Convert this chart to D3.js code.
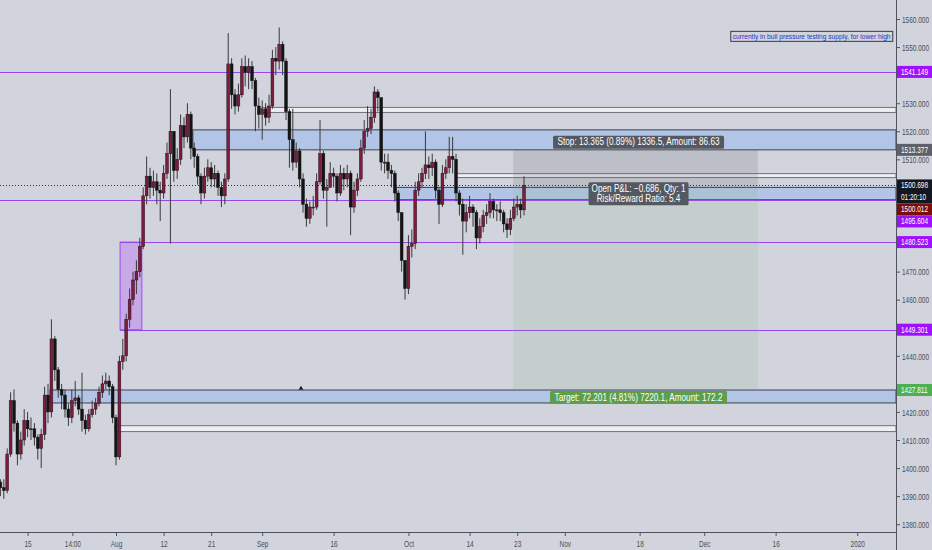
<!DOCTYPE html>
<html><head><meta charset="utf-8">
<script src="https://cdn.jsdelivr.net/npm/d3@7"></script>
<style>html,body{margin:0;padding:0;background:#d1d4dc;overflow:hidden}text{font-family:"Liberation Sans",Arial,sans-serif}</style>
</head><body><svg id="c" width="932" height="550"></svg>
<script>
// ---------- DATA ----------
const firstBarDay = -17;      // trading-day index (0 = 2019-08-01) of first bar
const barsPerDay = 2;
const firstOpen = 1395;
const closes = [1393,1392,1405,1424,1416,1405,1410,1417,1414,1414,
1411,1407,1412,1426,1420,1446,1435,1428,1426,1421,
1418,1424,1425,1421,1417,1414,1419,1421,1423,1427,
1430,1431,1429,1418,1404,1438,1440,1453,1460,1467,
1470,1479,1497,1504,1500,1502,1499,1498,1505,1512,
1520,1506,1510,1522,1518,1526,1514,1511,1504,1498,
1504,1507,1503,1505,1500,1497,1503,1544,1533,1529,
1533,1543,1541,1543,1538,1529,1526,1528,1525,1529,
1546,1545,1551,1545,1527,1517,1509,1513,1503,1494,
1489,1493,1493,1502,1512,1499,1500,1505,1504,1498,
1505,1503,1505,1493,1499,1503,1514,1520,1521,1525,
1534,1532,1509,1509,1506,1505,1498,1491,1474,1464,
1479,1480,1499,1502,1505,1508,1507,1509,1499,1494,
1505,1507,1511,1510,1498,1494,1488,1491,1493,1491,
1482,1486,1490,1491,1495,1492,1492,1491,1487,1485,
1489,1493,1494,1492,1500.7];
const highs = [1396,1396,1407,1427,1428,1417,1413,1421,1420,1418,
1416,1412,1414,1429,1430,1453,1447,1436,1430,1428,
1423,1428,1431,1426,1434,1419,1421,1424,1425,1429,
1433,1434,1433,1430,1419,1440,1446,1455,1464,1470,
1474,1482,1500,1511,1507,1506,1505,1502,1508,1516,
1535,1516,1514,1526,1525,1530,1527,1516,1512,1505,
1507,1510,1509,1508,1506,1502,1505,1555,1546,1535,
1537,1546,1547,1546,1545,1539,1532,1531,1530,1533,
1549,1550,1557,1552,1546,1528,1528,1516,1514,1505,
1496,1495,1497,1505,1524,1513,1503,1509,1507,1505,
1508,1507,1508,1506,1502,1505,1517,1524,1529,1528,
1536,1535,1532,1512,1512,1508,1506,1499,1488,1470,
1483,1485,1502,1505,1507,1520,1511,1512,1510,1500,
1508,1510,1518,1518,1512,1499,1496,1494,1497,1494,
1492,1489,1492,1494,1498,1496,1494,1495,1492,1489,
1492,1496,1497,1496,1504];
const lows = [1390,1389,1391,1404,1413,1401,1403,1408,1411,1410,
1408,1403,1400,1410,1416,1418,1431,1425,1421,1418,
1415,1416,1422,1419,1413,1412,1413,1418,1419,1422,
1425,1428,1426,1416,1401,1403,1435,1438,1450,1458,
1462,1468,1478,1494,1496,1497,1494,1488,1496,1503,
1480,1502,1503,1508,1514,1516,1510,1507,1501,1494,
1496,1502,1500,1500,1497,1493,1494,1502,1528,1526,
1527,1532,1536,1535,1535,1520,1521,1517,1522,1523,
1528,1540,1542,1540,1524,1507,1506,1507,1500,1491,
1486,1487,1490,1492,1501,1496,1486,1500,1500,1495,
1497,1499,1500,1483,1491,1497,1502,1512,1518,1519,
1523,1527,1506,1505,1503,1500,1495,1488,1470,1460,
1462,1475,1478,1497,1500,1503,1503,1504,1496,1487,
1493,1503,1505,1505,1495,1490,1476,1484,1489,1486,
1478,1480,1484,1487,1489,1489,1488,1488,1484,1482,
1483,1488,1490,1489,1490];

const priceTicks = [1380,1390,1400,1410,1420,1430,1440,1450,1460,1470,1480,1490,1500,1510,1520,1530,1540,1550,1560];
const timeTickLabels = ["15","14:00","Aug","12","21","Sep","16","Oct","14","23","Nov","18","Dec","16","2020"];
const timeTickDates = ["2019-07-15 00:00","2019-07-23 14:00","2019-08-01 00:00","2019-08-12 00:00","2019-08-21 00:00","2019-09-01 00:00","2019-09-16 00:00","2019-10-01 00:00","2019-10-14 00:00","2019-10-23 00:00","2019-11-01 00:00","2019-11-18 00:00","2019-12-01 00:00","2019-12-16 00:00","2020-01-01 00:00"];

const levelPrices = [1541.149, 1495.604, 1480.523, 1449.301];
const levelFrom   = [-17.1, -17.1, 0.6, 0.6];   // trading-day index where each level starts
const zoneKinds  = ["blue","white","white","blue","blue","white"];
const zoneFrom   = [11.3, 21.5, 49.9, 41.2, -9.7, -0.15];
const zoneTop    = [1520.5, 1528.5, 1504.9, 1500.0, 1427.811, 1415.1];
const zoneBottom = [1513.377, 1526.7, 1503.5, 1495.604, 1423.2, 1413.0];
const boxFrom = 0.6, boxTo = 3.8, boxTop = 1480.523, boxBottom = 1449.301;

const posFrom = 58.4, posTo = 94.4;
const posEntry = 1500.012, posStop = 1513.377, posTarget = 1427.811;
const stopText = "Stop: 13.365 (0.89%) 1336.5, Amount: 86.63";
const targetText = "Target: 72.201 (4.81%) 7220.1, Amount: 172.2";
const pnlText = ["Open P&L: \u22120.686, Qty: 1", "Risk/Reward Ratio: 5.4"];

const lastPrice = 1500.698, countdown = "01:20:10";
const axisLabelPrices = [1541.149, 1513.377, 1500.698, 1500.012, 1495.604, 1480.523, 1449.301, 1427.811];
const axisLabelKinds  = ["purple","grey","last","red","purple","purple","purple","green"];

const noteText = "currently in bull pressure testing supply, for lower high";
const noteDay = 90.4, notePrice = 1555.6;
const markerDay = 27.2, markerPrice = 1428.3;

// ---------- SETUP ----------
const W = 932, H = 550, plotR = 896, plotB = 532;
const svg = d3.select("#c");
svg.append("rect").attr("width", W).attr("height", H).attr("fill", "#d1d4dc");

const x = d3.scaleLinear().domain([-17.06, 114.7]).range([0, plotR]);
const y = d3.scaleLinear().domain([1380, 1560]).range([524.2, 19]);

const baseDay = Date.UTC(2019, 7, 1);
const isWd = d => { const g = d.getUTCDay(); return g >= 1 && g <= 5; };
const parse = d3.utcParse("%Y-%m-%d %H:%M");
function tradingIndex(d) {
  const day = d3.utcDay.floor(d), base = new Date(baseDay);
  const frac = (d - day) / 864e5;
  let n = day >= base ? d3.utcDay.range(base, day).filter(isWd).length
                      : -d3.utcDay.range(day, base).filter(isWd).length;
  return n + (isWd(day) ? frac : -0.5);
}
// horizontally condense a text via transform (keeps bbox honest)
function squeeze(sel, f) {
  sel.each(function () {
    const t = d3.select(this);
    const x0 = +t.attr("x") || 0, y0 = +t.attr("y") || 0;
    t.attr("x", 0).attr("y", 0).attr("transform", `translate(${x0},${y0}) scale(${f},1)`);
  });
}

const pg = svg.append("g");
svg.append("defs").append("clipPath").attr("id", "pc").append("rect")
  .attr("width", plotR).attr("height", plotB);
pg.attr("clip-path", "url(#pc)");

// ---------- ZONES ----------
zoneKinds.forEach((k, i) => {
  const x0 = x(zoneFrom[i]), y0 = y(zoneTop[i]), y1 = y(zoneBottom[i]);
  pg.append("rect").attr("x", x0).attr("y", y0).attr("width", plotR - x0).attr("height", y1 - y0)
    .attr("fill", k === "blue" ? "#b3c5e6" : "#eceef2")
    .attr("stroke", k === "blue" ? "#3e424d" : "#6e717b").attr("stroke-width", 1);
});
pg.append("rect").attr("x", x(boxFrom)).attr("y", y(boxTop))
  .attr("width", x(boxTo) - x(boxFrom)).attr("height", y(boxBottom) - y(boxTop))
  .attr("fill", "#c6a9e6").attr("stroke", "#9b4ff0");
levelPrices.forEach((p, i) => {
  pg.append("line").attr("x1", x(levelFrom[i])).attr("x2", plotR)
    .attr("y1", Math.round(y(p)) + 0.5).attr("y2", Math.round(y(p)) + 0.5)
    .attr("stroke", "#9b45f0").attr("stroke-width", 1);
});

// ---------- POSITION ----------
const px0 = x(posFrom), px1 = x(posTo);
pg.append("rect").attr("x", px0).attr("y", y(posStop)).attr("width", px1 - px0)
  .attr("height", y(posEntry) - y(posStop)).attr("fill", "rgba(110,112,122,0.2)");
pg.append("rect").attr("x", px0).attr("y", y(posEntry)).attr("width", px1 - px0)
  .attr("height", y(posTarget) - y(posEntry)).attr("fill", "rgba(90,170,90,0.11)");

pg.append("line").attr("x1", 0).attr("x2", plotR)
  .attr("y1", Math.round(y(lastPrice)) + 0.5).attr("y2", Math.round(y(lastPrice)) + 0.5)
  .attr("stroke", "#2a2e39").attr("stroke-dasharray", "1,2");

// ---------- CANDLES ----------
const bars = closes.map((c, k) => {
  const o = k === 0 ? firstOpen : closes[k - 1];
  return { t: firstBarDay + k / barsPerDay, o, c, h: Math.max(highs[k], o, c), l: Math.min(lows[k], o, c) };
});
const cg = pg.append("g");
cg.selectAll("line.w").data(bars).join("line").attr("class", "w")
  .attr("x1", d => x(d.t)).attr("x2", d => x(d.t))
  .attr("y1", d => y(d.h)).attr("y2", d => y(d.l))
  .attr("stroke", "#3a3a3e").attr("stroke-width", 1);
cg.selectAll("rect.b").data(bars).join("rect").attr("class", "b")
  .attr("x", d => x(d.t) - 1.4).attr("width", 2.8)
  .attr("y", d => y(Math.max(d.o, d.c)))
  .attr("height", d => Math.max(1, Math.abs(y(d.o) - y(d.c))))
  .attr("fill", d => d.c >= d.o ? "#7c1e40" : "#141414")
  .attr("stroke", d => d.c >= d.o ? "#2b0c17" : "#141414").attr("stroke-width", 0.5);

pg.append("path").attr("transform", `translate(${x(markerDay)},${y(markerPrice)})`)
  .attr("d", "M0,-3 L2.5,1.5 L0,0.5 L-2.5,1.5 Z").attr("fill", "#111");

// ---------- POSITION LABELS ----------
const pcx = (px0 + px1) / 2 + 3;
function boxLabel(lines, cy, w, bg, mode) {
  const lh = 10, h = lines.length * lh + 3;
  const top = mode === "above" ? cy - h - 1 : mode === "below" ? cy + 1 : cy - 5;
  svg.append("rect").attr("x", pcx - w / 2).attr("y", top).attr("width", w).attr("height", h)
    .attr("rx", 1.5).attr("fill", bg);
  lines.forEach((s, i) => {
    const t = svg.append("text").attr("x", pcx).attr("y", top + 9.5 + i * lh)
      .attr("text-anchor", "middle").attr("fill", "#fff").attr("font-size", 10).text(s);
    squeeze(t, 0.82);
  });
}
boxLabel([stopText], y(posStop), 171, "#545861", "above");
boxLabel(pnlText, y(posEntry), 100, "#545861", "mid");
boxLabel([targetText], y(posTarget), 177, "#5d9e4b", "below");

// ---------- NOTE ----------
{
  const nx = x(noteDay), ny = y(notePrice);
  svg.append("rect").attr("x", nx).attr("y", ny).attr("width", 162).attr("height", 10)
    .attr("fill", "none").attr("stroke", "#3a3a44").attr("stroke-width", 1);
  const t = svg.append("text").attr("x", nx + 2).attr("y", ny + 8).attr("fill", "#2433c8")
    .attr("font-size", 8).text(noteText);
  const L = t.node().getComputedTextLength();
  squeeze(t, 158 / L);
}

// ---------- PRICE AXIS LABEL LAYOUT ----------
const labs = axisLabelPrices.map((p, i) => ({ p, kind: axisLabelKinds[i], y: y(p) }))
  .sort((a, b) => a.y - b.y);
let lastBottom = -Infinity;
labs.forEach(l => {
  const hh = l.kind === "last" ? 24 : 12;
  let top = l.y - 6;
  if (top < lastBottom) top = lastBottom;
  l.top = top; l.h = hh; lastBottom = top + hh;
});
// hide tick labels that collide with a price label
const shownTicks = priceTicks.filter(v => {
  const ty = y(v);
  return !labs.some(l => ty > l.top - 3 && ty < l.top + l.h + 2);
});

// ---------- AXES ----------
svg.append("line").attr("x1", plotR + 0.5).attr("x2", plotR + 0.5).attr("y1", 0).attr("y2", H)
  .attr("stroke", "#50535e");
svg.append("line").attr("x1", 0).attr("x2", plotR).attr("y1", plotB + 0.5).attr("y2", plotB + 0.5)
  .attr("stroke", "#50535e");

const yAxis = svg.append("g").attr("transform", `translate(${plotR},0)`)
  .call(d3.axisRight(y).tickValues(shownTicks).tickFormat(d3.format(".3f")).tickSize(4).tickPadding(2));
yAxis.select(".domain").remove();
yAxis.selectAll("line").attr("stroke", "#50535e");
yAxis.selectAll("text").attr("fill", "#4a4e59").attr("font-size", 9).attr("dy", null)
  .each(function () { d3.select(this).attr("y", 3.2); });
squeeze(yAxis.selectAll("text"), 0.72);

const tDates = timeTickDates.map(s => tradingIndex(parse(s)));
const xAxis = svg.append("g").attr("transform", `translate(0,${plotB})`)
  .call(d3.axisBottom(x).tickValues(tDates).tickFormat((d, i) => timeTickLabels[i]).tickSize(4).tickPadding(4));
xAxis.select(".domain").remove();
xAxis.selectAll("line").attr("stroke", "#50535e");
xAxis.selectAll("text").attr("fill", "#4a4e59").attr("font-size", 9).attr("dy", null)
  .each(function () { d3.select(this).attr("y", 15); });
squeeze(xAxis.selectAll("text"), 0.72);

// ---------- PRICE AXIS LABELS ----------
const kindColor = { purple: "#a010ff", grey: "#5d606b", last: "#131722", red: "#7d0c0c", green: "#4caf50" };
labs.forEach(l => {
  const g = svg.append("g");
  g.append("rect").attr("x", plotR + 1).attr("y", l.top).attr("width", W - plotR - 1)
    .attr("height", l.h).attr("fill", kindColor[l.kind]);
  const t = g.append("text").attr("x", plotR + 5).attr("y", l.top + 9).attr("fill", "#fff")
    .attr("font-size", 9).text(d3.format(".3f")(l.p));
  squeeze(t, 0.72);
  if (l.kind === "last") {
    const t2 = g.append("text").attr("x", plotR + 5).attr("y", l.top + 21).attr("fill", "#fff")
      .attr("font-size", 9).text(countdown);
    squeeze(t2, 0.72);
  }
});
</script></body></html>
